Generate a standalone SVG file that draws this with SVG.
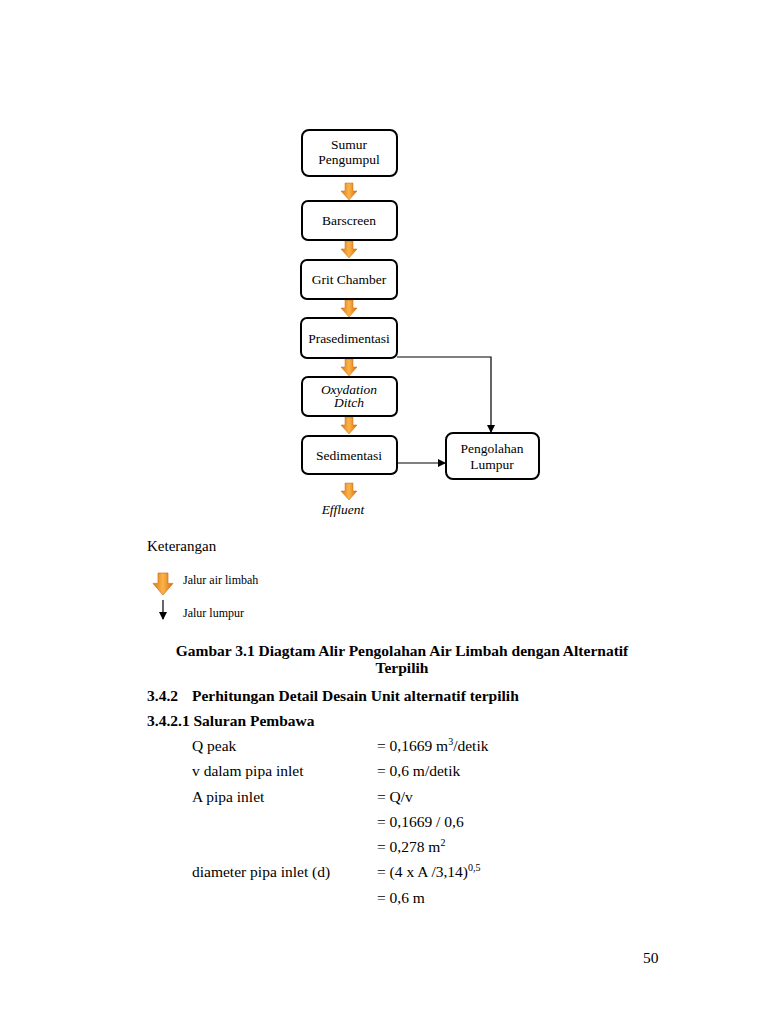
<svg xmlns="http://www.w3.org/2000/svg" xmlns:xlink="http://www.w3.org/1999/xlink" width="768" height="1024" viewBox="0 0 768 1024">
<style>
.box{fill:#fff;stroke:#000;stroke-width:2}
.bt{font-family:"Liberation Serif",serif;font-size:13.5px;fill:#000;text-anchor:middle}
.lt{font-family:"Liberation Serif",serif;font-size:12px;fill:#000}
.it{font-style:italic}
.body{font-family:"Liberation Serif","Times New Roman",serif;font-size:15.5px;fill:#000}
.bold{font-weight:bold}
.conn{fill:none;stroke:#000;stroke-width:1.2}
</style>
<defs>
<linearGradient id="og" x1="0" y1="0" x2="1" y2="0">
<stop offset="0" stop-color="#e07810"/>
<stop offset="0.5" stop-color="#fbb44a"/>
<stop offset="1" stop-color="#d86c08"/>
</linearGradient>
<path id="oa" d="M-4,0 H4 V8 H8 L0,17 L-8,8 H-4 Z" fill="url(#og)" stroke="#c86a10" stroke-width="0.5"/>
<marker id="ah" markerWidth="8" markerHeight="8" refX="7" refY="4" orient="auto" markerUnits="userSpaceOnUse">
<path d="M0,0 L8,4 L0,8 Z" fill="#000"/>
</marker>
</defs>
<rect width="768" height="1024" fill="#fff"/>

<g id="connectors">
<use xlink:href="#oa" href="#oa" transform="translate(349,183)"/>
<use xlink:href="#oa" href="#oa" transform="translate(349,241)"/>
<use xlink:href="#oa" href="#oa" transform="translate(349,300)"/>
<use xlink:href="#oa" href="#oa" transform="translate(349,359)"/>
<use xlink:href="#oa" href="#oa" transform="translate(349,417)"/>
<use xlink:href="#oa" href="#oa" transform="translate(349,483)"/>
<path class="conn" d="M397,357 H491 V432" marker-end="url(#ah)"/>
<path class="conn" d="M397,463 H445" marker-end="url(#ah)"/>
</g>

<g id="n-sumur"><rect class="box" x="302" y="130" width="95" height="46" rx="7"/><text class="bt" x="349" y="149">Sumur</text><text class="bt" x="349" y="164">Pengumpul</text></g>
<g id="n-barscreen"><rect class="box" x="302" y="201" width="95" height="39" rx="6"/><text class="bt" x="349" y="225">Barscreen</text></g>
<g id="n-grit"><rect class="box" x="301" y="260" width="96" height="39" rx="6"/><text class="bt" x="349" y="284">Grit  Chamber</text></g>
<g id="n-pras"><rect class="box" x="301" y="318" width="96" height="40" rx="6"/><text class="bt" x="349" y="343">Prasedimentasi</text></g>
<g id="n-oxy"><rect class="box" x="302" y="377" width="95" height="39" rx="6"/><text class="bt it" x="349" y="394">Oxydation</text><text class="bt it" x="349" y="407">Ditch</text></g>
<g id="n-sed"><rect class="box" x="302" y="436" width="95" height="38" rx="6"/><text class="bt" x="349" y="460">Sedimentasi</text></g>
<g id="n-lumpur"><rect class="box" x="446" y="433" width="93" height="46" rx="7"/><text class="bt" x="492" y="453">Pengolahan</text><text class="bt" x="492" y="469">Lumpur</text></g>
<g id="n-effluent"><text class="bt it" x="343" y="514">Effluent</text></g>

<g id="legend">
<text class="body" x="147" y="551" style="font-size:15px">Keterangan</text>
<use xlink:href="#oa" href="#oa" transform="translate(163,573) scale(1.25,1.3)"/>
<text class="lt" x="183" y="584">Jalur air limbah</text>
<line x1="163" y1="600" x2="163" y2="619" stroke="#000" stroke-width="1.2" marker-end="url(#ah)"/>
<text class="lt" x="183" y="617">Jalur lumpur</text>
</g>

<g id="text">
<text class="body bold" x="402" y="656" text-anchor="middle">Gambar 3.1 Diagtam Alir Pengolahan Air Limbah dengan Alternatif</text>
<text class="body bold" x="402" y="673" text-anchor="middle">Terpilih</text>
<text class="body bold" x="147" y="701">3.4.2</text>
<text class="body bold" x="192" y="701">Perhitungan Detail Desain Unit alternatif terpilih</text>
<text class="body bold" x="147" y="726">3.4.2.1 Saluran Pembawa</text>
<text class="body" x="192" y="751">Q peak</text>
<text class="body" x="377" y="751">= 0,1669 m<tspan font-size="10" dy="-6">3</tspan><tspan dy="6">/detik</tspan></text>
<text class="body" x="192" y="776">v dalam pipa inlet</text>
<text class="body" x="377" y="776">= 0,6 m/detik</text>
<text class="body" x="192" y="802">A pipa inlet</text>
<text class="body" x="377" y="802">= Q/v</text>
<text class="body" x="377" y="827">= 0,1669 / 0,6</text>
<text class="body" x="377" y="852">= 0,278 m<tspan font-size="10" dy="-6">2</tspan></text>
<text class="body" x="192" y="877">diameter pipa inlet (d)</text>
<text class="body" x="377" y="877">= (4 x A /3,14)<tspan font-size="10" dy="-6">0,5</tspan></text>
<text class="body" x="377" y="903">= 0,6 m</text>
<text class="body" x="643" y="963">50</text>
</g>
</svg>
